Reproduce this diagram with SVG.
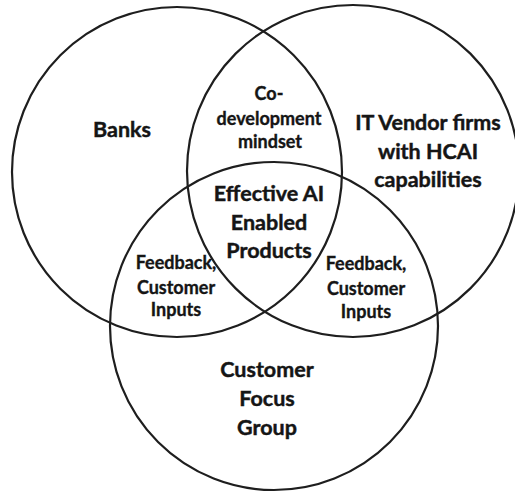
<svg xmlns="http://www.w3.org/2000/svg" width="515" height="492" viewBox="0 0 515 492">
  <style>
    .ring { fill: none; stroke: #1e1e1e; stroke-width: 2.2; }
    .big { font-family: Lato, "Open Sans", "Liberation Sans", sans-serif; font-weight: bold; font-size: 21.5px; fill: #151515; stroke: #151515; stroke-width: 0.45; text-anchor: middle; }
    .small { font-family: Lato, "Open Sans", "Liberation Sans", sans-serif; font-weight: bold; font-size: 18px; fill: #151515; stroke: #151515; stroke-width: 0.35; text-anchor: middle; }
  </style>
  <rect width="515" height="492" fill="#ffffff"/>

  <!-- three overlapping sets -->
  <g id="banks">
    <circle class="ring" cx="177" cy="172" r="165"/>
    <text class="big" x="122" y="137">Banks</text>
  </g>
  <g id="it-vendors">
    <circle class="ring" cx="353" cy="171" r="166"/>
    <text class="big" x="428" y="130">IT Vendor firms</text>
    <text class="big" x="428" y="159">with HCAI</text>
    <text class="big" x="428" y="187">capabilities</text>
  </g>
  <g id="customer-focus-group">
    <circle class="ring" cx="274" cy="326" r="164"/>
    <text class="big" x="267" y="377">Customer</text>
    <text class="big" x="267" y="406">Focus</text>
    <text class="big" x="267" y="435">Group</text>
  </g>

  <!-- overlap labels -->
  <g id="co-development">
    <text class="small" x="269" y="100">Co-</text>
    <text class="small" x="269" y="125">development</text>
    <text class="small" x="270" y="148">mindset</text>
  </g>
  <g id="effective-ai">
    <text class="big" x="269" y="201">Effective AI</text>
    <text class="big" x="269" y="230">Enabled</text>
    <text class="big" x="269" y="258">Products</text>
  </g>
  <g id="feedback-left">
    <text class="small" x="176" y="269">Feedback,</text>
    <text class="small" x="176" y="294">Customer</text>
    <text class="small" x="176" y="316">Inputs</text>
  </g>
  <g id="feedback-right">
    <text class="small" x="366" y="270">Feedback,</text>
    <text class="small" x="366" y="295">Customer</text>
    <text class="small" x="366" y="318">Inputs</text>
  </g>

  <g id="connectors"/>
</svg>
